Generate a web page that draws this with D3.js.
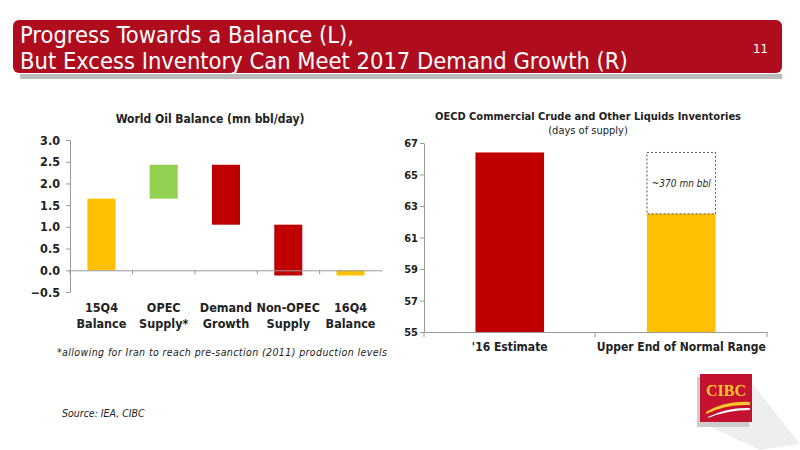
<!DOCTYPE html>
<html>
<head>
<meta charset="utf-8">
<script src="https://cdn.jsdelivr.net/npm/d3@7"></script>
<style>
  body { margin: 0; background: #fff; }
  text { font-family: "DejaVu Sans", sans-serif; font-stretch: condensed; }
</style>
</head>
<body>
<svg id="chart" width="800" height="450"></svg>
<script>
// left: waterfall
const wfCategories = [["15Q4", "Balance"], ["OPEC", "Supply*"], ["Demand", "Growth"], ["Non-OPEC", "Supply"], ["16Q4", "Balance"]];
const wfLow = [0, 1.65, 1.05, -0.12, -0.12];
const wfHigh = [1.65, 2.43, 2.43, 1.05, 0];
const wfColors = ["#ffc000", "#92d050", "#c00000", "#c00000", "#ffc000"];
const wfTicks = [-0.5, 0, 0.5, 1, 1.5, 2, 2.5, 3];

// right: inventories
const invCategories = ["'16 Estimate", "Upper End of Normal Range"];
const invValues = [66.4, 62.5];
const invColors = ["#c00000", "#ffc000"];
const invTicks = [55, 57, 59, 61, 63, 65, 67];

const svg = d3.select("#chart");

// header
svg.append("rect").attr("x", 20).attr("y", 74).attr("width", 762).attr("height", 5).attr("fill", "#bbb");
svg.append("rect").attr("x", 13).attr("y", 20).attr("width", 769).attr("height", 53).attr("rx", 6).attr("fill", "#af0c1d");
svg.append("text").attr("x", 20).attr("y", 43).attr("fill", "#fff").attr("font-size", 23.5).text("Progress Towards a Balance (L),");
svg.append("text").attr("x", 20).attr("y", 69).attr("fill", "#fff").attr("font-size", 23.5).text("But Excess Inventory Can Meet 2017 Demand Growth (R)");
svg.append("text").attr("x", 768).attr("y", 53).attr("fill", "#fff").attr("font-size", 13).attr("text-anchor", "end").text("11");

// left chart
const x1 = d3.scaleBand().domain(d3.range(wfCategories.length)).range([70, 382]).paddingInner(0.55).paddingOuter(0.28);
const y1 = d3.scaleLinear().domain([-0.5, 3]).range([292, 140]);

svg.append("text").attr("x", 210).attr("y", 123).attr("text-anchor", "middle").attr("font-size", 12).attr("font-weight", "bold").attr("fill", "#222").text("World Oil Balance (mn bbl/day)");

svg.append("g").selectAll("rect").data(wfCategories).join("rect")
  .attr("x", (d, i) => x1(i)).attr("width", x1.bandwidth())
  .attr("y", (d, i) => y1(wfHigh[i])).attr("height", (d, i) => y1(wfLow[i]) - y1(wfHigh[i]))
  .attr("fill", (d, i) => wfColors[i]);

const yAx1 = svg.append("g").attr("transform", "translate(70,0)")
  .call(d3.axisLeft(y1).tickValues(wfTicks).tickFormat(d3.format(".1f")).tickSize(4).tickSizeOuter(0));
yAx1.selectAll(".tick text").attr("font-size", 12.5).attr("font-weight", "bold").attr("fill", "#222").attr("x", -10);
const xAx1 = svg.append("g").attr("transform", `translate(0,${y1(0)})`)
  .call(d3.axisBottom(x1.copy().paddingInner(0).paddingOuter(0)).tickSize(4).tickSizeOuter(0).tickFormat(""));
xAx1.selectAll(".tick line").attr("transform", `translate(${-x1.step() / 2},0)`);

svg.append("g").selectAll("text").data(wfCategories).join("text")
  .attr("x", (d, i) => x1(i) + x1.bandwidth() / 2).attr("y", 312)
  .attr("text-anchor", "middle").attr("font-size", 12.5).attr("font-weight", "bold").attr("fill", "#222")
  .selectAll("tspan").data(d => d).join("tspan")
  .attr("x", function () { return this.parentNode.getAttribute("x"); })
  .attr("dy", (d, i) => i ? 16 : 0).text(d => d);

svg.append("text").attr("x", 57).attr("y", 356).attr("font-size", 10.5).attr("font-style", "italic").attr("fill", "#222")
  .attr("letter-spacing", 0.4)
  .text("*allowing for Iran to reach pre-sanction (2011) production levels");

// right chart
const x2 = d3.scaleBand().domain(invCategories).range([424, 767]).paddingInner(0.6).paddingOuter(0.3);
const y2 = d3.scaleLinear().domain([55, 67]).range([332, 143]);

svg.append("text").attr("x", 588).attr("y", 120).attr("text-anchor", "middle").attr("font-size", 11).attr("font-weight", "bold").attr("fill", "#222").text("OECD Commercial Crude and Other Liquids Inventories");
svg.append("text").attr("x", 588).attr("y", 134).attr("text-anchor", "middle").attr("font-size", 11).attr("fill", "#222").text("(days of supply)");

svg.append("g").selectAll("rect").data(invCategories).join("rect")
  .attr("x", d => x2(d)).attr("width", x2.bandwidth())
  .attr("y", (d, i) => y2(invValues[i])).attr("height", (d, i) => y2(55) - y2(invValues[i]))
  .attr("fill", (d, i) => invColors[i]);

// excess inventory box
const c2 = invCategories[1];
svg.append("rect").attr("x", x2(c2)).attr("width", x2.bandwidth())
  .attr("y", y2(invValues[0])).attr("height", y2(invValues[1]) - y2(invValues[0]))
  .attr("fill", "none").attr("stroke", "#222").attr("stroke-width", 0.8).attr("stroke-dasharray", "2,2");
svg.append("text").attr("x", x2(c2) + x2.bandwidth() / 2).attr("y", 187).attr("text-anchor", "middle")
  .attr("font-size", 10).attr("font-style", "italic").attr("fill", "#222").text("~370 mn bbl");

const yAx2 = svg.append("g").attr("transform", "translate(424,0)")
  .call(d3.axisLeft(y2).tickValues(invTicks).tickSize(4).tickSizeOuter(0));
yAx2.selectAll("text").attr("font-size", 11).attr("font-weight", "bold").attr("fill", "#222").attr("x", -6);
const xAx2 = svg.append("g").attr("transform", `translate(0,${y2(55)})`)
  .call(d3.axisBottom(x2).tickSize(0).tickSizeOuter(0));
xAx2.selectAll("text").attr("font-size", 12).attr("font-weight", "bold").attr("fill", "#222").attr("dy", "1.3em");
xAx2.append("g").selectAll("line").data([424, 595, 767]).join("line")
  .attr("x1", d => d).attr("x2", d => d).attr("y1", 0).attr("y2", 5).attr("stroke", "#999");
svg.selectAll(".domain, .tick line").attr("stroke", "#999");

// source
svg.append("text").attr("x", 62).attr("y", 417).attr("font-size", 10.5).attr("font-style", "italic").attr("fill", "#222").text("Source: IEA, CIBC");

// logo
const logo = svg.append("g").attr("transform", "translate(700,374)");
logo.append("path").attr("d", "M48,4 L100,70 L60,76 L4,50 Z").attr("fill", "#eee");
logo.append("rect").attr("x", -3).attr("y", 3).attr("width", 52).attr("height", 50).attr("fill", "#ccc");
logo.append("rect").attr("x", 0).attr("y", 0).attr("width", 52).attr("height", 48).attr("fill", "#c41230");
logo.append("text").attr("x", 26).attr("y", 22).attr("text-anchor", "middle").attr("font-size", 16).attr("font-weight", "bold")
  .attr("fill", "#ffc72c").style("font-family", "Liberation Serif, serif").text("CIBC");
logo.append("path").attr("d", "M6,38 Q26,26 50,28 L50,31 Q26,30 6,40 Z").attr("fill", "#ffc72c");
logo.append("path").attr("d", "M8,43 Q28,33 50,34 L50,36 Q28,36 8,44 Z").attr("fill", "#fff");
</script>
</body>
</html>
